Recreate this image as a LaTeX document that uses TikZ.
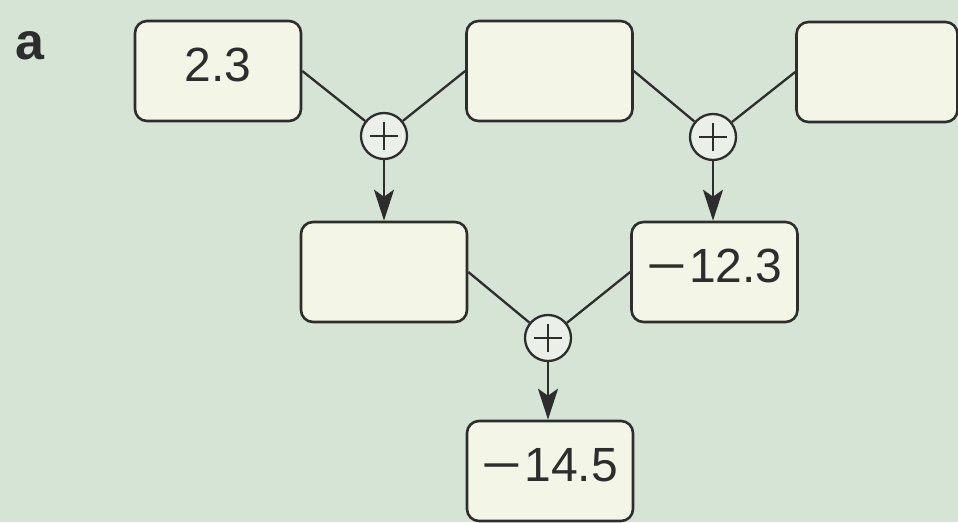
\documentclass[tikz,border=0pt]{standalone}
\usepackage{fontspec}
\usepackage{graphicx}
\setmainfont{Liberation Sans}
\usetikzlibrary{arrows.meta}

\definecolor{bgcol}{RGB}{214,228,214}
\definecolor{boxfill}{RGB}{243,245,230}
\definecolor{sumfill}{RGB}{234,240,232}
\definecolor{ink}{RGB}{45,45,45}

% long minus sign used in the numbers
\newcommand{\longminus}{\scalebox{1.45}[1]{−}\kern2pt}

\tikzset{
  valbox/.style={draw=ink, fill=boxfill, line width=2.6pt, rounded corners=12pt,
                 minimum width=166pt, minimum height=100pt, inner sep=0pt},
  valtext/.style={text=ink, font=\fontsize{48}{54}\selectfont, inner sep=0pt},
  sumnode/.style={circle, draw=ink, fill=sumfill, line width=2.3pt,
                  minimum size=46pt, inner sep=0pt,
                  path picture={
                    \draw[ink, line width=1.6pt]
                      ([xshift=-14pt]path picture bounding box.center) --
                      ([xshift=14pt]path picture bounding box.center)
                      ([yshift=-14pt]path picture bounding box.center) --
                      ([yshift=14pt]path picture bounding box.center);
                  }},
  link/.style={ink, line width=2.3pt},
  flow/.style={ink, line width=2.3pt, -{Stealth[length=31pt,width=20pt,inset=7pt]}}
}

\begin{document}
\begin{tikzpicture}[x=1pt, y=-1pt]
  \fill[bgcol] (0,0) rectangle (958,522);
  \useasboundingbox (0,0) rectangle (958,522);

  % panel letter
  \node[text=ink, font=\fontsize{52}{58}\selectfont\bfseries, inner sep=0pt] (panel) at (30,46) {a};

  % value boxes
  \node[valbox] (b1) at (218,71) {};
  \node[valbox] (b2) at (549.5,71) {};
  \node[valbox, minimum width=161pt] (b3) at (877,72) {};
  \node[valbox] (m1) at (384,272) {};
  \node[valbox] (m2) at (714.5,272) {};
  \node[valbox] (r) at (550,471) {};

  % numbers inside the boxes, set a little above centre
  \node[valtext] (t1) at ([yshift=6pt]b1.center) {2.3};
  \node[valtext] (t2) at ([yshift=6pt]m2.center) {\longminus12.3};
  \node[valtext] (t3) at ([yshift=6pt]r.center) {\longminus14.5};

  % summation nodes
  \node[sumnode] (s1) at (384,136) {};
  \node[sumnode] (s2) at (713,137) {};
  \node[sumnode] (s3) at (548,338) {};

  % inputs into the sums
  \draw[link] (b1.east) -- (s1);
  \draw[link] (b2.west) -- (s1);
  \draw[link] (b2.east) -- (s2);
  \draw[link] (b3.west) -- (s2);
  \draw[link] (m1.east) -- (s3);
  \draw[link] (m2.west) -- (s3);

  % outputs of the sums
  \draw[flow] (s1) -- (m1);
  \draw[flow] (s2) -- (m2.north -| s2);
  \draw[flow] (s3) -- (r.north -| s3);
\end{tikzpicture}
\end{document}
